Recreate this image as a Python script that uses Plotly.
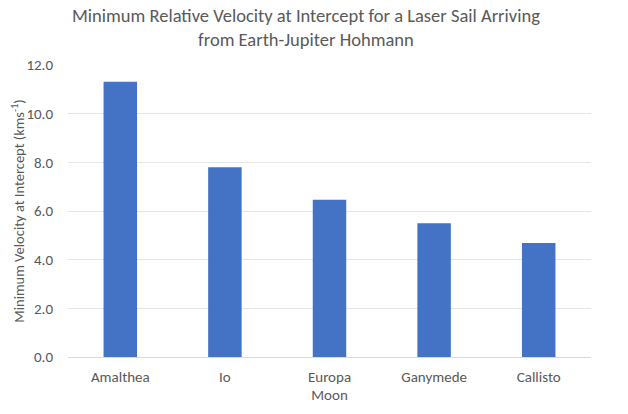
import plotly.graph_objects as go

moons = ["Amalthea", "Io", "Europa", "Ganymede", "Callisto"]
velocity = [11.31, 7.80, 6.46, 5.50, 4.69]
y_ticks = [0, 2, 4, 6, 8, 10, 12]
y_tick_labels = ["0.0", "2.0", "4.0", "6.0", "8.0", "10.0", "12.0"]
title_text = "Minimum Relative Velocity at Intercept for a Laser Sail Arriving<br>from Earth-Jupiter Hohmann"

font_family = "Calibri, Carlito, Lato, sans-serif"
grey = "#595959"

fig = go.Figure(
    go.Bar(x=moons, y=velocity, marker=dict(color="#4472C4", line=dict(width=0)), width=0.32)
)

# page body has an 8px default margin, so the figure is sized/placed to compensate
fig.update_layout(
    width=620, height=406,
    margin=dict(l=60, r=37, t=57, b=57),
    paper_bgcolor="white", plot_bgcolor="white",
    font=dict(family=font_family, color=grey, size=15),
    showlegend=False,
    annotations=[dict(
        text=title_text, xref="paper", yref="paper", x=0.455, y=1.128,
        xanchor="center", yanchor="middle", showarrow=False,
        font=dict(size=18.5, color=grey, family=font_family),
    )],
)
fig.update_xaxes(
    automargin=False,
    title=dict(text="Moon", font=dict(size=15, color=grey), standoff=2),
    showline=True, linecolor="#D9D9D9", linewidth=1,
    ticks="", tickfont=dict(size=15, color=grey), ticklabelstandoff=6,
)
fig.update_yaxes(
    automargin=False,
    title=dict(text="Minimum Velocity at Intercept (kms<sup>-1</sup>)", font=dict(size=14.5, color=grey), standoff=3),
    range=[0, 12], tickvals=y_ticks, ticktext=y_tick_labels,
    showgrid=True, gridcolor="#E5E5E5", gridwidth=1,
    zeroline=False, ticks="outside", ticklen=11, tickcolor="rgba(0,0,0,0)",
    tickfont=dict(size=15, color=grey),
)

fig.write_html("out.html")
